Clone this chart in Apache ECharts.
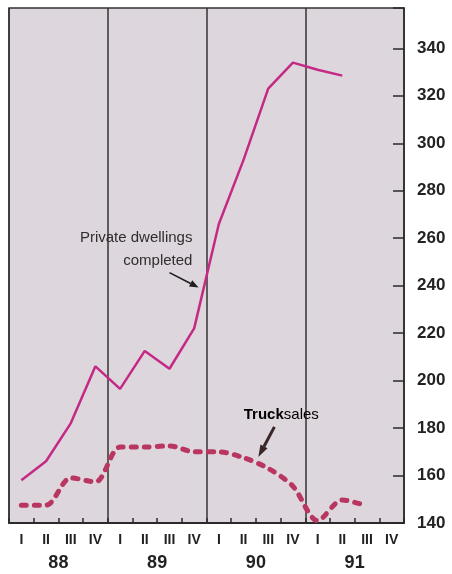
<!DOCTYPE html>
<html>
<head>
<meta charset="utf-8">
<script src="https://cdn.jsdelivr.net/npm/echarts@6/dist/echarts.min.js"></script>
<style>
  html, body { margin: 0; padding: 0; background: #ffffff; }
  #chart { width: 452px; height: 574px; }
</style>
</head>
<body>
<div id="chart"></div>
<script>
// Quarterly categories, 1988-1991
const quarters = ['I', 'II', 'III', 'IV', 'I', 'II', 'III', 'IV', 'I', 'II', 'III', 'IV', 'I', 'II', 'III', 'IV'];
const years = ['88', '89', '90', '91'];

// Private dwellings completed
const dwellings = [158, 166, 182, 206, 196.5, 212.5, 205, 222, 266, 293, 323, 334, 331, 328.5, null, null];
// Truck sales
const truckSales = [147.5, 147.5, 159, 157.3, 172, 172, 172.5, 170, 170, 167.5, 163, 155.5, 141, 149.7, 147.2, null];

// Right-hand value scale
const yMin = 140;
const yMax = 357;
const yStep = 20;

const FONT = '"Liberation Sans", Arial, Helvetica, sans-serif';

const chart = echarts.init(document.getElementById('chart'), null, { renderer: 'canvas' });

const option = {
  animation: false,
  backgroundColor: '#ffffff',
  grid: {
    left: 9, right: 48, top: 8, bottom: 51,
    show: true,
    backgroundColor: '#ddd6dc',
    borderColor: '#333333',
    borderWidth: 1.5
  },
  xAxis: [
    {
      type: 'category',
      position: 'bottom',
      data: quarters,
      boundaryGap: true,
      axisLine: { show: true, onZero: false, lineStyle: { color: '#2a2a2a', width: 2 } },
      axisTick: { show: true, inside: true, length: 5, interval: 0, lineStyle: { color: '#2a2a2a', width: 1.5 } },
      axisLabel: {
        interval: 0, margin: 10,
        fontFamily: FONT, fontSize: 14, fontWeight: 'bold', color: '#222222'
      },
      splitLine: { show: false }
    },
    {
      type: 'category',
      position: 'bottom',
      data: years,
      boundaryGap: true,
      axisLine: { show: false, onZero: false },
      axisTick: { show: false },
      axisLabel: {
        interval: 0, margin: 31,
        fontFamily: FONT, fontSize: 18, fontWeight: 'bold', color: '#222222'
      },
      splitLine: { show: true, interval: 0, lineStyle: { color: '#333333', width: 1.5 } }
    },
    {
      // hidden continuous x scale used to place annotations
      type: 'value',
      position: 'top',
      show: false,
      axisLine: { onZero: false },
      min: 0,
      max: quarters.length
    }
  ],
  yAxis: {
    type: 'value',
    position: 'right',
    min: yMin,
    max: yMax,
    interval: yStep,
    axisLine: { show: true, onZero: false, lineStyle: { color: '#333333', width: 1.5 } },
    axisTick: { show: true, inside: true, length: 11, lineStyle: { color: '#2a2a2a', width: 1.5 } },
    axisLabel: {
      margin: 13,
      fontFamily: FONT, fontSize: 17, fontWeight: 'bold', color: '#222222',
      formatter: v => (v % yStep === 0 ? String(v) : '')
    },
    splitLine: { show: false }
  },
  series: [
    {
      name: 'Private dwellings completed',
      type: 'line',
      xAxisIndex: 0,
      data: dwellings,
      symbol: 'none',
      connectNulls: false,
      lineStyle: { color: '#c42a85', width: 2.5 },
      z: 3
    },
    {
      name: 'Truck sales',
      type: 'line',
      xAxisIndex: 0,
      data: truckSales,
      symbol: 'none',
      smooth: 0.3,
      lineStyle: { color: '#b8365f', width: 5, type: [5, 8], cap: 'round' },
      z: 2
    }
  ]
};

chart.setOption(option);

// Annotation helpers (positions given in quarter units / value units)
function toPx(u, v) {
  return chart.convertToPixel({ xAxisIndex: 2, yAxisIndex: 0 }, [u, v]);
}

function arrow(from, to, color, width, headLen, headWidth) {
  const a = toPx(from[0], from[1]);
  const b = toPx(to[0], to[1]);
  const dx = b[0] - a[0], dy = b[1] - a[1];
  const len = Math.sqrt(dx * dx + dy * dy);
  const ux = dx / len, uy = dy / len;
  const base = [b[0] - ux * headLen, b[1] - uy * headLen];
  const nx = -uy * headWidth / 2, ny = ux * headWidth / 2;
  return [
    {
      type: 'line',
      shape: { x1: a[0], y1: a[1], x2: base[0], y2: base[1] },
      style: { stroke: color, lineWidth: width },
      z: 10
    },
    {
      type: 'polygon',
      shape: { points: [b, [base[0] + nx, base[1] + ny], [base[0] - nx, base[1] - ny]] },
      style: { fill: color },
      z: 10
    }
  ];
}

const pd1 = toPx(7.43, 260.3);
const pd2 = toPx(7.43, 250.6);
const ts = toPx(11.03, 185.6);

chart.setOption({
  graphic: [
    {
      type: 'text', x: pd1[0], y: pd1[1], z: 10,
      style: {
        text: 'Private dwellings', align: 'right', verticalAlign: 'middle',
        font: '15px ' + FONT, fill: '#2e2e2e'
      }
    },
    {
      type: 'text', x: pd2[0], y: pd2[1], z: 10,
      style: {
        text: 'completed', align: 'right', verticalAlign: 'middle',
        font: '15px ' + FONT, fill: '#2e2e2e'
      }
    },
    {
      type: 'text', x: ts[0], y: ts[1], z: 10,
      style: {
        text: '{b|Truck}{r|sales}', align: 'center', verticalAlign: 'middle',
        rich: {
          b: { fontFamily: FONT, fontSize: 15, fontWeight: 'bold', color: '#1e1a1c' },
          r: { fontFamily: FONT, fontSize: 15, color: '#3a3a3a' }
        }
      }
    },
    ...arrow([6.5, 245.5], [7.68, 239.2], '#1e1e1e', 1.6, 9, 7),
    ...arrow([10.75, 180.5], [10.1, 167.8], '#3a2626', 3, 12, 8)
  ]
});
</script>
</body>
</html>
